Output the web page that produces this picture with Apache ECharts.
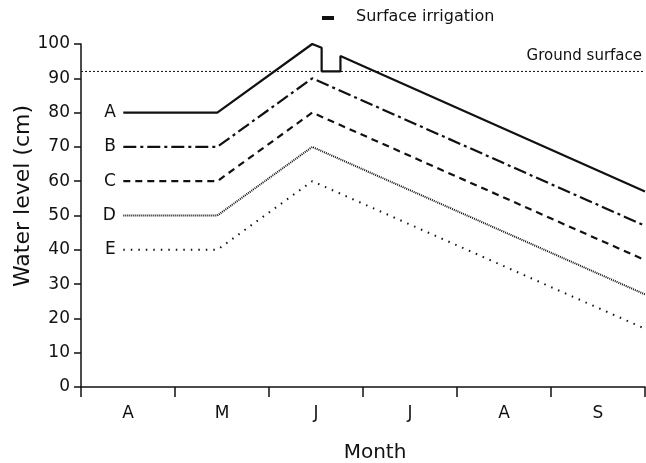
<!DOCTYPE html>
<html><head><meta charset="utf-8">
<script src="https://cdn.jsdelivr.net/npm/echarts@6/dist/echarts.min.js"></script>
<style>html,body{margin:0;padding:0;background:#fff}#c{width:646px;height:463px}</style>
</head><body><div id="c"></div>
<script>
// Months (x axis category labels), x in month units from start of April
const months = ['A', 'M', 'J', 'J', 'A', 'S'];
const yTicks = [0, 10, 20, 30, 40, 50, 60, 70, 80, 90, 100];
const groundSurface = 92;
// [month position, water level cm]
const seriesA = [[0.45, 80], [1.45, 80], [2.46, 100], [2.56, 98.9], [2.56, 92], [2.76, 92], [2.76, 96.5], [6, 57]];
const seriesB = [[0.45, 70], [1.45, 70], [2.46, 90], [6, 47]];
const seriesC = [[0.45, 60], [1.45, 60], [2.46, 80], [6, 37]];
const seriesD = [[0.45, 50], [1.45, 50], [2.46, 70], [6, 27]];
const seriesE = [[0.45, 40], [1.45, 40], [2.46, 60], [6, 17]];
const names = ['A', 'B', 'C', 'D', 'E'];

const FONT = 'DejaVu Sans';
const ink = '#111';
const styles = [
  { type: 'solid', width: 2.2 },
  { type: [13, 4, 3, 4], width: 2.2 },
  { type: [7, 5], width: 2.2 },
  { type: [1, 1], width: 2 },
  { type: [1.5, 6], width: 2 }
];
const all = [seriesA, seriesB, seriesC, seriesD, seriesE];

const series = all.map((d, i) => ({
  name: names[i],
  type: 'line',
  data: d,
  xAxisIndex: 0,
  symbol: 'none',
  silent: true,
  animation: false,
  lineStyle: { color: ink, width: styles[i].width, type: styles[i].type, cap: 'butt' },
  markPoint: {
    symbol: 'circle', symbolSize: 1, silent: true, animation: false,
    itemStyle: { color: 'rgba(0,0,0,0)' },
    label: { show: true, position: 'left', distance: 7, formatter: names[i], color: ink, fontSize: 17, fontFamily: FONT },
    data: [{ coord: d[0] }]
  }
}));
series.push({
  name: 'Ground surface', type: 'line', xAxisIndex: 0, symbol: 'none', silent: true, animation: false,
  data: [[0, groundSurface], [6, groundSurface]],
  lineStyle: { color: ink, width: 1, type: [2, 2] }
});

const chart = echarts.init(document.getElementById('c'));
chart.setOption({
  backgroundColor: '#fff',
  animation: false,
  grid: { left: 81, right: 1, top: 44, bottom: 76 },
  xAxis: [
    {
      type: 'value', min: 0, max: 6, interval: 1, position: 'bottom',
      axisLine: { lineStyle: { color: ink, width: 1.5 } },
      axisTick: { show: true, length: 10, lineStyle: { color: ink, width: 1.5 } },
      axisLabel: { show: false }, splitLine: { show: false }
    },
    {
      type: 'category', data: months, boundaryGap: true, position: 'bottom',
      axisLine: { show: false }, axisTick: { show: false }, splitLine: { show: false },
      axisLabel: { color: ink, fontSize: 17, fontFamily: FONT, margin: 18 }
    }
  ],
  yAxis: {
    type: 'value', min: 0, max: 100, interval: 10,
    axisLine: { show: true, lineStyle: { color: ink, width: 1.5 } },
    axisTick: { show: true, length: 7, lineStyle: { color: ink, width: 1.5 } },
    axisLabel: { color: ink, fontSize: 17, fontFamily: FONT, margin: 11, formatter: v => yTicks.includes(v) ? String(v) : '' },
    splitLine: { show: false }
  },
  graphic: [
    { type: 'text', x: 23, y: 196, rotation: Math.PI / 2,
      style: { text: 'Water level (cm)', fontSize: 22, fontFamily: FONT, fill: ink, align: 'center', verticalAlign: 'middle' } },
    { type: 'text', x: 375, y: 453, style: { text: 'Month', fontSize: 20, fontFamily: FONT, fill: ink, align: 'center', verticalAlign: 'middle' } },
    { type: 'text', right: 4, top: 49, style: { text: 'Ground surface', fontSize: 15, fontFamily: FONT, fill: ink } },
    { type: 'rect', shape: { x: 322, y: 16, width: 12, height: 4 }, style: { fill: ink } },
    { type: 'text', left: 356, top: 9, style: { text: 'Surface irrigation', fontSize: 16, fontFamily: FONT, fill: ink } }
  ],
  series: series
});
</script></body></html>
